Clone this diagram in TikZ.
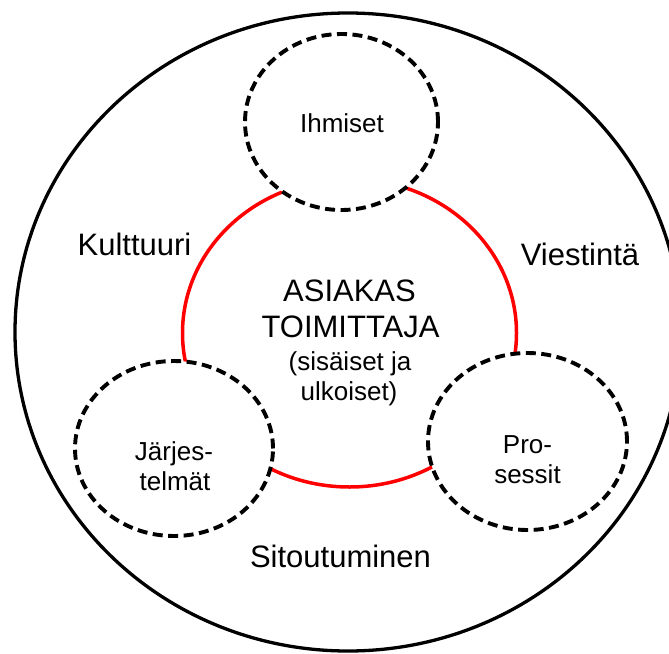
\documentclass[tikz,border=0pt]{standalone}
\usepackage{fontspec}
\setmainfont{Liberation Sans}
\usetikzlibrary{shapes.geometric}
\tikzset{
  envring/.style={ellipse, draw=black, line width=3.3pt, inner sep=0pt},
  corering/.style={ellipse, draw=red, line width=3.5pt, inner sep=0pt},
  dashring/.style={ellipse, draw=black, fill=white, line width=3.9pt,
                   dash pattern=on 10pt off 5.5pt, inner sep=0pt},
  bigtxt/.style={font=\fontsize{31}{36}\selectfont, anchor=base, inner sep=0pt},
  smalltxt/.style={font=\fontsize{26}{30}\selectfont, anchor=base, inner sep=0pt},
}
\begin{document}
\begin{tikzpicture}[x=1pt,y=-1pt]
  % page frame
  \clip (0,0) rectangle (669,653);
  \fill[white] (0,0) rectangle (669,653);

  % surrounding environment
  \node[envring, minimum width=666pt, minimum height=638pt] (env) at (348,332) {};

  % customer/supplier core
  \node[corering, minimum width=334pt, minimum height=308pt] (core) at (349.5,333) {};

  % three dashed elements
  \node[dashring, minimum width=193pt, minimum height=176pt] (ihm) at (341.5,122) {};
  \node[dashring, minimum width=198pt, minimum height=175pt] (jar) at (174,448.5) {};
  \node[dashring, minimum width=199pt, minimum height=177pt] (pro) at (527.5,441.5) {};

  % labels
  \node[smalltxt] (tihm) at (342,132) {Ihmiset};
  \node[smalltxt] (tjar1) at (174,460) {Järjes-};
  \node[smalltxt] (tjar2) at (175,490) {telmät};
  \node[smalltxt] (tpro1) at (527.5,453) {Pro-};
  \node[smalltxt] (tpro2) at (527.5,483) {sessit};

  \node[bigtxt] (tkul) at (134.5,255) {Kulttuuri};
  \node[bigtxt] (tvie) at (580,265) {Viestintä};
  \node[bigtxt] (tsit) at (340.5,567.5) {Sitoutuminen};

  \node[bigtxt] (tasi) at (349.5,301) {ASIAKAS};
  \node[bigtxt] (ttoi) at (350.5,337.5) {TOIMITTAJA};
  \node[smalltxt] (tsis) at (350,370) {(sisäiset ja};
  \node[smalltxt] (tulk) at (349,400) {ulkoiset)};
\end{tikzpicture}
\end{document}
